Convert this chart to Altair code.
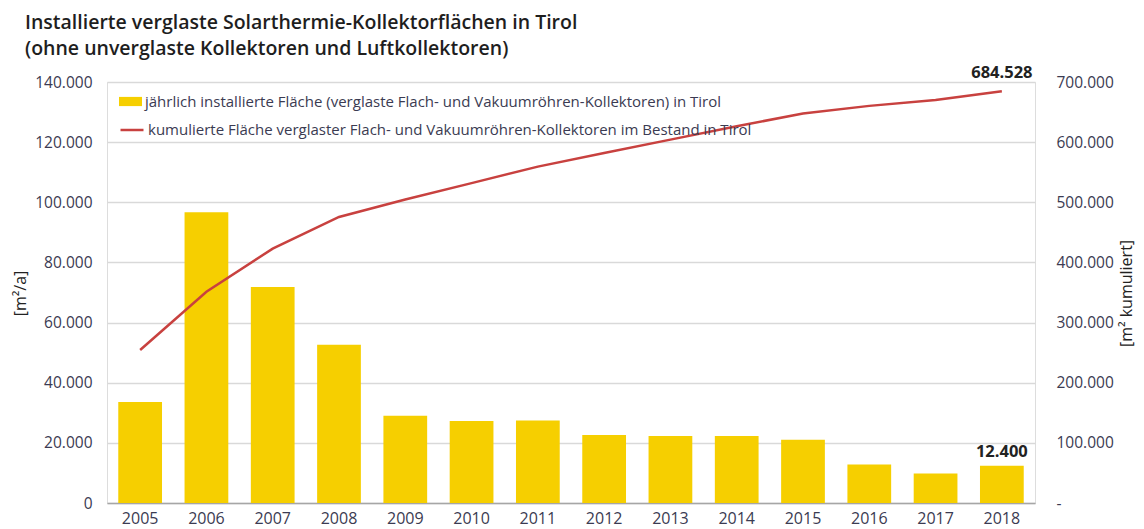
import altair as alt
import pandas as pd

years = ["2005", "2006", "2007", "2008", "2009", "2010", "2011",
         "2012", "2013", "2014", "2015", "2016", "2017", "2018"]
annual = [33600, 96700, 71800, 52600, 29000, 27300, 27400,
          22600, 22300, 22300, 21000, 12800, 9800, 12400]
cumulative = [254500, 351200, 423000, 475600, 504600, 531900, 559300,
              581900, 604200, 626500, 647500, 660300, 670100, 684528]
left_ticks = [0, 20000, 40000, 60000, 80000, 100000, 120000, 140000]
right_ticks = [0, 100000, 200000, 300000, 400000, 500000, 600000, 700000]

bar_label = "jährlich installierte Fläche (verglaste Flach- und Vakuumröhren-Kollektoren) in Tirol"
line_label = "kumulierte Fläche verglaster Flach- und Vakuumröhren-Kollektoren im Bestand in Tirol"
title_lines = ["Installierte verglaste Solarthermie-Kollektorflächen in Tirol",
               "(ohne unverglaste Kollektoren und Luftkollektoren)"]

df = pd.DataFrame({"Jahr": years, "annual": annual, "cum": cumulative,
                   "s_bar": bar_label, "s_line": line_label})

FONT = "Open Sans"
TXT = "#3b3b52"
YELLOW = "#F6CF00"
RED = "#C8413F"
fmt = "replace(format(datum.value, ','), ',', '.')"

x_enc = alt.X("Jahr:N",
              scale=alt.Scale(paddingInner=0.34, paddingOuter=0.17),
              axis=alt.Axis(title=None, labelAngle=0, ticks=False,
                            domainColor="#A6A6A6", domainWidth=1.5,
                            labelPadding=7, labelFontSize=16,
                            labelColor=TXT, labelFont=FONT))

bars = alt.Chart(df).mark_bar().encode(
    x=x_enc,
    y=alt.Y("annual:Q",
            scale=alt.Scale(domain=[0, 140000], nice=False),
            axis=alt.Axis(title="[m²/a]", values=left_ticks, labelExpr=fmt,
                          domain=False, ticks=False, grid=True,
                          gridColor="#D9D9D9", gridWidth=1.5,
                          labelPadding=15, labelFontSize=15.5, labelColor=TXT,
                          labelFont=FONT, titleFont=FONT, titleFontSize=16,
                          titleFontWeight="normal", titleColor="#222222",
                          titleX=-87, titleY=211, titleAngle=270,
                          titleAlign="center", titleBaseline="middle")),
    fill=alt.Fill("s_bar:N", scale=alt.Scale(range=[YELLOW]),
                  legend=alt.Legend(title=None, orient="none", legendX=12,
                                    legendY=8, padding=0,
                                    symbolType="M-1,-0.4H1V0.4H-1Z",
                                    symbolSize=529, symbolStrokeWidth=0,
                                    labelFont=FONT, labelFontSize=15,
                                    labelColor=TXT, labelLimit=900,
                                    labelOffset=3)),
)

line = alt.Chart(df).mark_line(strokeWidth=2.5).encode(
    x=alt.X("Jahr:N"),
    y=alt.Y("cum:Q",
            scale=alt.Scale(domain=[0, 700000], nice=False),
            axis=alt.Axis(title="[m² kumuliert]", orient="right",
                          values=right_ticks,
                          labelExpr="datum.value == 0 ? '-' : " + fmt,
                          domain=False, ticks=False, grid=False,
                          labelAlign="left", labelPadding=21,
                          labelFontSize=15.5, labelColor=TXT, labelFont=FONT,
                          titleFont=FONT, titleFontSize=16,
                          titleFontWeight="normal", titleColor="#222222",
                          titleX=91, titleY=211, titleAngle=270,
                          titleAlign="center", titleBaseline="middle")),
    stroke=alt.Stroke("s_line:N", scale=alt.Scale(range=[RED]),
                      legend=alt.Legend(title=None, orient="none", legendX=12,
                                        legendY=35, padding=0,
                                        symbolType="stroke", symbolSize=529,
                                        symbolStrokeWidth=2.5,
                                        labelFont=FONT, labelFontSize=15,
                                        labelColor=TXT, labelLimit=900,
                                        labelOffset=3)),
)

cum_text = alt.Chart(df).transform_filter(
    "datum.Jahr == '2018'"
).transform_calculate(
    lbl="replace(format(datum.cum, ','), ',', '.')"
).mark_text(font=FONT, fontSize=16.5, fontWeight="bold", color="#222222",
            dy=-18, baseline="middle").encode(
    x=alt.X("Jahr:N"),
    y=alt.Y("cum:Q", scale=alt.Scale(domain=[0, 700000], nice=False), axis=None),
    text="lbl:N",
)

bar_text = alt.Chart(df).transform_filter(
    "datum.Jahr == '2018'"
).transform_calculate(
    lbl="replace(format(datum.annual, ','), ',', '.')"
).mark_text(font=FONT, fontSize=16.5, fontWeight="bold", color="#222222",
            dy=-14, baseline="middle").encode(
    x=alt.X("Jahr:N"),
    y=alt.Y("annual:Q", scale=alt.Scale(domain=[0, 140000], nice=False), axis=None),
    text="lbl:N",
)

chart = alt.layer(bars, line, cum_text, bar_text).resolve_scale(
    y="independent"
).properties(
    width=928, height=421,
    autosize=alt.AutoSizeParams(type="none"),
    padding={"left": 99, "top": 74, "right": 101, "bottom": 26},
    title=alt.TitleParams(text=title_lines, anchor="start", frame="group",
                          dx=-82, dy=19, fontSize=19.5, font=FONT,
                          fontWeight=600, color="#1e1e1e", lineHeight=26,
                          offset=25),
).configure_view(stroke=None).configure(background="white")

chart.save("out.html", embed_options={"renderer": "svg", "actions": False})
